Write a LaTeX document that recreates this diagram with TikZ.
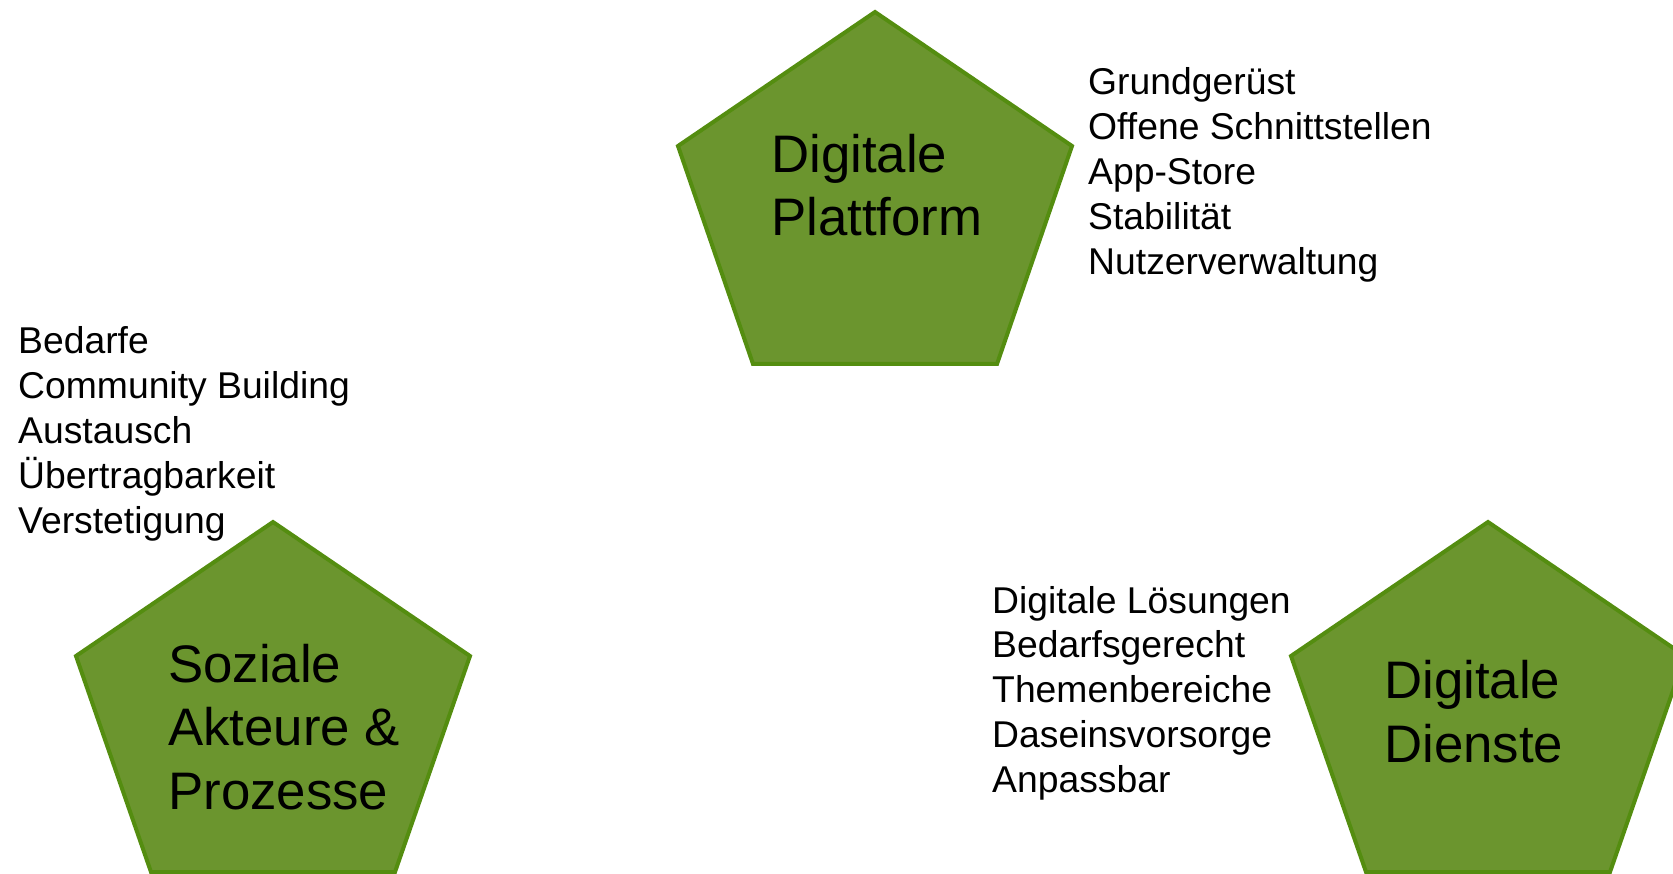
\documentclass[tikz,border=0pt]{standalone}
\usepackage{fontspec}
\setmainfont{Liberation Sans}
\definecolor{pentfill}{RGB}{107,149,46}
\definecolor{pentline}{RGB}{84,141,16}
\tikzset{
  pent/.style={fill=pentfill, draw=pentline, line width=4pt, line join=miter},
  listtxt/.style={anchor=base west, inner sep=0pt, font=\fontsize{37.3}{44.8}\selectfont},
  titletxt/.style={anchor=base west, inner sep=0pt, font=\fontsize{52.8}{63.5}\selectfont},
}
\begin{document}
\begin{tikzpicture}[x=1pt,y=-1pt]
\useasboundingbox (0,0) rectangle (1673,874);
\clip (0,0) rectangle (1673,874);
% pentagons
\draw[pent] (875,12) -- (1072,146) -- (997,364) -- (753,364) -- (678,146) -- cycle;
\draw[pent] (273,522) -- (470,656) -- (395,872) -- (151,872) -- (76,656) -- cycle;
\draw[pent] (1488,522) -- (1685,656) -- (1610,872) -- (1366,872) -- (1291,656) -- cycle;
% titles
\node[titletxt] (t1a) at (771,172.7) {Digitale};
\node[titletxt] (t1b) at (771,236) {Plattform};
\node[titletxt] (t2a) at (168,682) {Soziale};
\node[titletxt] (t2b) at (168,745.5) {Akteure \&};
\node[titletxt] (t2c) at (168,809) {Prozesse};
\node[titletxt] (t3a) at (1384,698.5) {Digitale};
\node[titletxt] (t3b) at (1384,762) {Dienste};
% list top right
\node[listtxt] (a1) at (1088,95) {Grundgerüst};
\node[listtxt] (a2) at (1088,139.8) {Offene Schnittstellen};
\node[listtxt] (a3) at (1088,184.6) {App-Store};
\node[listtxt] (a4) at (1088,229.4) {Stabilität};
\node[listtxt] (a5) at (1088,274.2) {Nutzerverwaltung};
% list left
\node[listtxt] (b1) at (18,354) {Bedarfe};
\node[listtxt] (b2) at (18,398.8) {Community Building};
\node[listtxt] (b3) at (18,443.6) {Austausch};
\node[listtxt] (b4) at (18,488.4) {Übertragbarkeit};
\node[listtxt] (b5) at (18,533.2) {Verstetigung};
% list bottom middle
\node[listtxt] (c1) at (992,613) {Digitale Lösungen};
\node[listtxt] (c2) at (992,657.8) {Bedarfsgerecht};
\node[listtxt] (c3) at (992,702.6) {Themenbereiche};
\node[listtxt] (c4) at (992,747.4) {Daseinsvorsorge};
\node[listtxt] (c5) at (992,792.2) {Anpassbar};
\end{tikzpicture}
\end{document}
